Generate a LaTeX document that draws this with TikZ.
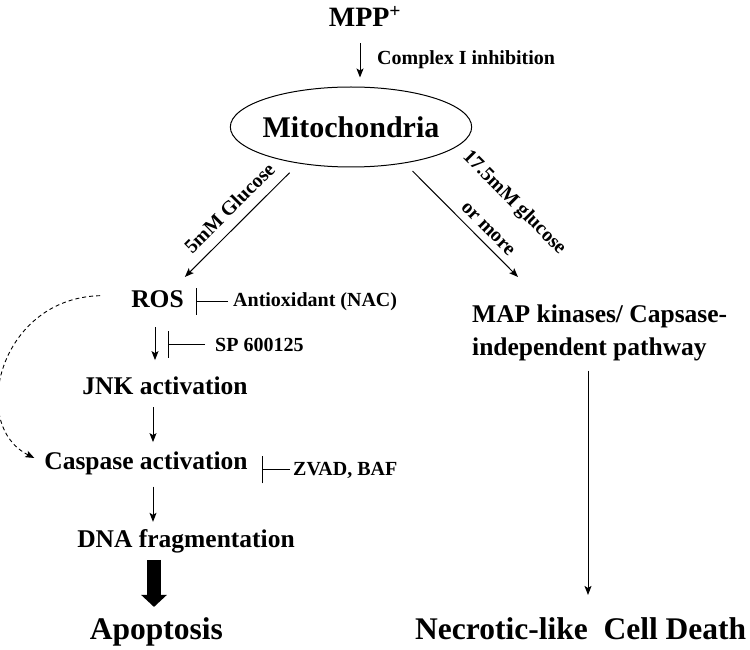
\documentclass[tikz,border=0pt]{standalone}
\usepackage{fontspec}
\setmainfont{Liberation Serif}
\usetikzlibrary{arrows.meta,shapes.geometric,calc}

\begin{document}
\begin{tikzpicture}[x=1pt,y=-1pt,
  big/.style={font=\fontsize{31.5}{36}\selectfont\bfseries,inner sep=0pt},
  mid/.style={font=\fontsize{25.5}{33}\selectfont\bfseries,inner sep=0pt},
  small/.style={font=\fontsize{20}{24}\selectfont\bfseries,inner sep=0pt},
  arr/.style={line width=1pt,-{Stealth[length=9pt,width=7pt,inset=2pt]}},
  inh/.style={line width=1pt,-{Bar[width=27pt,line width=1pt]}},
  fat/.style={line width=14pt,-{Triangle[length=12pt,width=25pt]}}]
\useasboundingbox (0,0) rectangle (750,650);

\node[font=\fontsize{28}{32}\selectfont\bfseries,inner sep=0pt,anchor=base] (mpp) at (365,27) {MPP\textsuperscript{+}};
\node[small,anchor=base west] (cplx) at (377,65) {Complex I inhibition};
\node[draw,ellipse,line width=1pt,minimum width=238pt,minimum height=80pt,inner xsep=-3pt,inner ysep=0pt,
  font=\fontsize{30}{36}\selectfont\bfseries] (mito) at (351,127) {Mitochondria};

\node[mid,anchor=base] (ros) at (157.5,307) {ROS};
\node[small,anchor=base west] (nac) at (233,306) {Antioxidant (NAC)};
\node[mid,anchor=base] (jnk) at (165,394) {JNK activation};
\node[small,anchor=base west] (sp) at (215,351) {SP 600125};
\node[mid,anchor=base] (casp) at (146,469) {Caspase activation};
\node[small,anchor=base west] (zvad) at (293,475) {ZVAD, BAF};
\node[mid,anchor=base] (dna) at (186,547) {DNA fragmentation};
\node[big,anchor=base] (apop) at (156.5,639) {Apoptosis};

\node[mid,anchor=north west,align=left] (map) at (472,305) {MAP kinases/ Capsase-\\independent pathway};
\node[big,anchor=base west] (necro) at (415,639) {Necrotic-like\ \ Cell Death};

\draw[arr,shorten <=16pt,shorten >=9pt] ([xshift=-5pt]mpp.south) -- ([xshift=-5pt]mpp.south |- mito.north);
\draw[arr,shorten <=13pt] (mito.215) -- ($(ros.north east)+(1,-13)$)
  node[small,midway,sloped,above=10pt] {5mM Glucose};
\draw[arr,shorten <=11pt] (mito.326) -- ($(map.north west)+(46,-28)$)
  node[small,pos=0.655,sloped,above=7pt,align=center,font=\fontsize{20}{37}\selectfont\bfseries] {17.5mM glucose\\or more};

\draw[arr,shorten <=20pt,shorten >=16pt] ([xshift=-2.5pt]ros.south) -- ([xshift=-2.5pt]ros.south |- jnk.north);
\draw[inh,shorten <=5pt] (nac.west) -- ([xshift=12pt]nac.west -| ros.east);
\draw[inh,shorten <=10pt] (sp.west) -- ([xshift=10.5pt]sp.west -| ros.south);
\draw[arr,shorten <=13pt,shorten >=9pt] ([xshift=-12pt]jnk.south) -- ([xshift=-12pt]jnk.south |- casp.north);
\draw[arr,dash pattern=on 4pt off 3pt,line width=0.9pt,shorten >=11pt] ($(ros.west)+(-31,-3)$)
  .. controls (0,298) and (-32,425) .. (casp.west);
\draw[inh,shorten <=3pt] (zvad.west) -- ([xshift=14pt]zvad.west -| casp.east);
\draw[arr,shorten <=12pt,shorten >=7pt] ([xshift=7pt]casp.south) -- ([xshift=7pt]casp.south |- dna.north);
\draw[fat,shorten <=7pt,shorten >=10pt] ([xshift=-32pt]dna.south) -- ([xshift=-32pt]dna.south |- apop.north);
\draw[arr,shorten <=9pt,shorten >=22pt] ([xshift=116pt]map.south west) -- ([xshift=116pt]map.south west |- necro.north);
\end{tikzpicture}
\end{document}
